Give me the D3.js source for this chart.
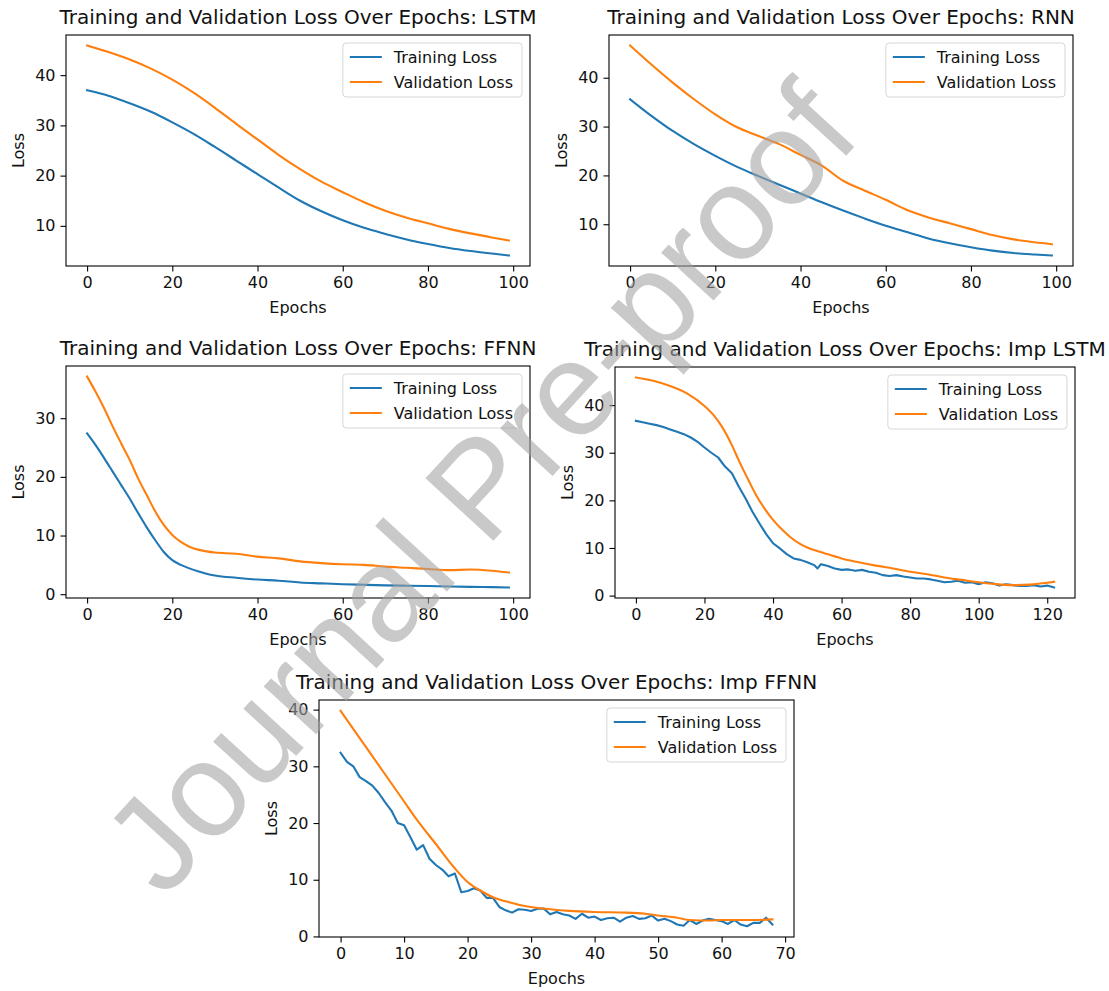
<!DOCTYPE html>
<html>
<head>
<meta charset="utf-8">
<script src="https://cdn.jsdelivr.net/npm/d3@7/dist/d3.min.js"></script>
<style>
  body { margin: 0; background: #fff; }
  svg text { font-family: "DejaVu Sans", sans-serif; }
</style>
</head>
<body>
<svg id="fig" width="1109" height="991"></svg>
<script>
(function() {

// ---- data ----
var seriesNames = ["Training Loss", "Validation Loss"];

// LSTM
var lstmEpochs = [0,5,10,15,20,25,30,35,40,45,50,55,60,65,70,75,80,85,90,95,99];
var lstmTrain  = [37.0,35.9,34.4,32.7,30.6,28.3,25.7,23.0,20.3,17.6,15.0,12.9,11.1,9.6,8.4,7.3,6.4,5.6,5.0,4.5,4.1];
var lstmVal    = [45.9,44.6,43.1,41.3,39.1,36.5,33.5,30.3,27.2,24.1,21.3,18.8,16.7,14.7,13.0,11.6,10.5,9.4,8.5,7.7,7.1];

// RNN
var rnnEpochs = [0,5,10,15,20,25,30,35,40,45,50,55,60,65,70,75,80,85,90,95,99];
var rnnTrain  = [35.6,32.2,29.1,26.4,24.0,21.8,19.9,18.1,16.3,14.5,12.8,11.2,9.7,8.4,7.1,6.1,5.3,4.6,4.1,3.8,3.6];
var rnnVal    = [46.6,42.7,39.0,35.6,32.5,29.9,28.1,26.4,24.2,22.0,18.9,16.9,15.0,12.9,11.4,10.2,9.0,7.8,6.9,6.3,5.9];

// FFNN
var ffnnEpochs = [0,2,4,6,8,10,12,14,16,18,20,22,24,26,28,30,35,40,45,50,55,60,65,70,75,80,85,90,95,99];
var ffnnTrain  = [27.4,25.4,23.2,20.9,18.6,16.3,13.8,11.4,9.2,7.2,5.8,5.0,4.4,3.9,3.5,3.2,2.8,2.5,2.3,2.0,1.85,1.7,1.6,1.5,1.45,1.4,1.3,1.25,1.2,1.15];
var ffnnVal    = [37.1,34.5,31.7,28.6,25.7,22.9,19.7,16.9,14.1,11.8,10.1,8.9,8.1,7.6,7.3,7.1,6.9,6.4,6.1,5.6,5.3,5.1,5.0,4.7,4.5,4.3,4.1,4.2,4.0,3.7];

// Imp LSTM
var impLstmTrainEpochs = [0,2,4,6,8,10,12,14,16,18,20,22,24,26,28,30,32,34,36,38,40,42,44,46,48,50,52,53,54,56,58,60,62,64,66,68,70,72,74,76,78,80,82,84,86,88,90,92,94,96,98,100,102,104,106,108,110,112,114,116,118,120,122];
var impLstmTrain = [36.7,36.4,36.1,35.8,35.4,34.9,34.4,33.9,33.2,32.3,31.1,30.0,29.0,27.1,25.7,22.9,20.4,17.6,15.2,12.9,11.0,9.9,8.7,7.8,7.5,7.0,6.4,5.7,6.6,6.2,5.7,5.4,5.5,5.2,5.4,5.0,4.8,4.3,4.1,4.3,4.0,3.8,3.6,3.6,3.4,3.1,2.8,2.9,3.1,2.7,2.8,2.4,2.8,2.6,2.1,2.4,2.2,2.0,2.0,2.2,1.9,2.1,1.7];
var impLstmValEpochs = [0,5,10,15,20,23,25,28,30,33,35,38,40,43,45,48,50,55,60,65,70,75,80,85,90,95,100,105,110,115,120,122];
var impLstmVal = [45.8,45.1,44.0,42.4,39.8,37.6,35.6,31.6,28.4,24.0,21.2,17.8,15.9,13.6,12.3,10.8,10.1,8.9,7.8,7.0,6.3,5.7,5.0,4.5,3.8,3.3,2.8,2.4,2.2,2.3,2.7,2.9];

// Imp FFNN
var impFfnnTrainEpochs = d3.range(0, 69);
var impFfnnTrain = [32.4,30.8,30.0,28.1,27.4,26.6,25.3,23.7,22.2,20.0,19.6,17.5,15.3,16.1,13.7,12.6,11.8,10.6,11.1,7.8,
                    8.0,8.5,8.1,6.8,6.8,5.2,4.6,4.2,4.8,4.7,4.5,4.9,4.9,3.9,4.3,3.9,3.7,3.1,4.0,3.3,
                    3.5,2.9,3.2,3.3,2.6,3.3,3.6,3.1,3.2,3.7,2.8,3.1,2.7,2.1,1.9,2.9,2.2,2.8,3.1,2.9,
                    2.7,2.2,2.9,2.1,1.8,2.4,2.4,3.3,2.1];
var impFfnnValEpochs = [0,5,10,12,15,18,20,22,24,26,28,30,33,36,40,45,48,50,53,55,58,60,65,68];
var impFfnnVal = [39.8,31.8,23.8,20.6,16.3,12.0,9.6,8.1,6.9,6.2,5.6,5.2,4.8,4.5,4.3,4.2,4.0,3.7,3.3,2.9,2.8,2.9,2.9,3.0];

var xTicks100 = [0,20,40,60,80,100];
var xTicks120 = [0,20,40,60,80,100,120];
var xTicks70  = [0,10,20,30,40,50,60,70];
var yTicks10to40 = [10,20,30,40];
var yTicks0to30  = [0,10,20,30];
var yTicks0to40  = [0,10,20,30,40];

var watermark = "Journal Pre-proof";

// ---- layout ----
var width = 1109, height = 991;
var colors = ["#1f77b4", "#ff7f0e"];

var panels = [
  {title: "Training and Validation Loss Over Epochs: LSTM", tx: lstmEpochs, train: lstmTrain, vx: lstmEpochs, val: lstmVal,
   xTicks: xTicks100, yTicks: yTicks10to40, box: {l: 66, t: 35, r: 530, b: 266}, smoothTrain: true},
  {title: "Training and Validation Loss Over Epochs: RNN", tx: rnnEpochs, train: rnnTrain, vx: rnnEpochs, val: rnnVal,
   xTicks: xTicks100, yTicks: yTicks10to40, box: {l: 609, t: 35, r: 1073, b: 266}, smoothTrain: true},
  {title: "Training and Validation Loss Over Epochs: FFNN", tx: ffnnEpochs, train: ffnnTrain, vx: ffnnEpochs, val: ffnnVal,
   xTicks: xTicks100, yTicks: yTicks0to30, box: {l: 66, t: 366, r: 530, b: 598}, smoothTrain: true},
  {title: "Training and Validation Loss Over Epochs: Imp LSTM", tx: impLstmTrainEpochs, train: impLstmTrain, vx: impLstmValEpochs, val: impLstmVal,
   xTicks: xTicks120, yTicks: yTicks0to40, box: {l: 615, t: 367, r: 1075, b: 598}, smoothTrain: false},
  {title: "Training and Validation Loss Over Epochs: Imp FFNN", tx: impFfnnTrainEpochs, train: impFfnnTrain, vx: impFfnnValEpochs, val: impFfnnVal,
   xTicks: xTicks70, yTicks: yTicks0to40, box: {l: 319, t: 700, r: 794, b: 937}, smoothTrain: false}
];

var svg = d3.select("#fig");
svg.append("rect").attr("width", width).attr("height", height).style("fill", "#fff");

function drawPanel(p) {
  var box = p.box;
  var g = svg.append("g").attr("class", "panel");

  // matplotlib style 5% margins
  var xmax = d3.max(p.tx.concat(p.vx)), xmin = d3.min(p.tx.concat(p.vx));
  var xpad = (xmax - xmin) * 0.05;
  var x = d3.scaleLinear().domain([xmin - xpad, xmax + xpad]).range([box.l, box.r]);

  var allY = p.train.concat(p.val);
  var ymin = d3.min(allY), ymax = d3.max(allY);
  var ypad = (ymax - ymin) * 0.05;
  var y = d3.scaleLinear().domain([ymin - ypad, ymax + ypad]).range([box.b, box.t]);

  var xAxis = g.append("g")
      .attr("transform", "translate(0," + box.b + ")")
      .call(d3.axisBottom(x).tickValues(p.xTicks).tickSize(5.5).tickPadding(5).tickSizeOuter(0).tickFormat(d3.format("d")));
  var yAxis = g.append("g")
      .attr("transform", "translate(" + box.l + ",0)")
      .call(d3.axisLeft(y).tickValues(p.yTicks).tickSize(5.5).tickPadding(5).tickSizeOuter(0).tickFormat(d3.format("d")));

  [xAxis, yAxis].forEach(function(a) {
    a.select(".domain").remove();
    a.attr("font-size", null).attr("font-family", null);
    a.selectAll(".tick line").attr("stroke", "#000").attr("stroke-width", 1.1);
    a.selectAll(".tick text").style("font-size", "16px").style("fill", "#111");
  });

  var line = function(curve) {
    return d3.line().x(function(d) { return x(d[0]); }).y(function(d) { return y(d[1]); }).curve(curve);
  };

  var trainPts = p.tx.map(function(e, i) { return [e, p.train[i]]; });
  var valPts = p.vx.map(function(e, i) { return [e, p.val[i]]; });

  g.append("path")
    .attr("d", line(p.smoothTrain ? d3.curveMonotoneX : d3.curveLinear)(trainPts))
    .attr("fill", "none").attr("stroke", colors[0]).attr("stroke-width", 2.1)
    .attr("stroke-linejoin", "round").attr("stroke-linecap", "square");
  g.append("path")
    .attr("d", line(d3.curveMonotoneX)(valPts))
    .attr("fill", "none").attr("stroke", colors[1]).attr("stroke-width", 2.1)
    .attr("stroke-linejoin", "round").attr("stroke-linecap", "square");

  // frame
  g.append("rect")
    .attr("x", box.l).attr("y", box.t)
    .attr("width", box.r - box.l).attr("height", box.b - box.t)
    .attr("fill", "none").attr("stroke", "#000").attr("stroke-width", 1.1);

  // title + axis labels
  g.append("text")
    .attr("x", (box.l + box.r) / 2).attr("y", box.t - 11)
    .attr("text-anchor", "middle").style("font-size", "20px").style("fill", "#111")
    .text(p.title);
  g.append("text")
    .attr("x", (box.l + box.r) / 2).attr("y", box.b + 47)
    .attr("text-anchor", "middle").style("font-size", "16px").style("fill", "#111")
    .text("Epochs");
  g.append("text")
    .attr("transform", "translate(" + (box.l - 42) + "," + ((box.t + box.b) / 2) + ") rotate(-90)")
    .attr("text-anchor", "middle").style("font-size", "16px").style("fill", "#111")
    .text("Loss");

  // legend, upper right
  var lg = g.append("g");
  var labels = lg.selectAll("text.lbl").data(seriesNames).enter().append("text")
    .attr("class", "lbl").style("font-size", "16px").style("fill", "#111")
    .text(function(d) { return d; });
  var tw = d3.max(labels.nodes(), function(n) { return n.getComputedTextLength(); });
  var lw = 51 + tw + 9, lh = 54;
  var lx = box.r - 8 - lw, ly = box.t + 8;
  lg.insert("rect", "text")
    .attr("x", lx).attr("y", ly).attr("width", lw).attr("height", lh)
    .attr("rx", 3.5).style("fill", "#fff").style("fill-opacity", 0.8)
    .attr("stroke", "#d6d6d6").attr("stroke-width", 1);
  seriesNames.forEach(function(s, i) {
    var cy = ly + 14 + i * 25;
    lg.append("line")
      .attr("x1", lx + 7).attr("x2", lx + 39).attr("y1", cy).attr("y2", cy)
      .attr("stroke", colors[i]).attr("stroke-width", 2.1);
  });
  labels.attr("x", lx + 51).attr("y", function(d, i) { return ly + 14 + i * 25; }).attr("dy", "0.36em");
}

panels.forEach(drawPanel);

// watermark on top
svg.append("text")
  .attr("transform", "translate(478,486) rotate(-47.5)")
  .attr("text-anchor", "middle").attr("dy", "0.36em")
  .style("font-family", "'Liberation Sans', Arial, sans-serif")
  .style("font-size", "134px")
  .style("fill", "#a2a2a2").style("fill-opacity", 0.58)
  .text(watermark);

})();
</script>
</body>
</html>
